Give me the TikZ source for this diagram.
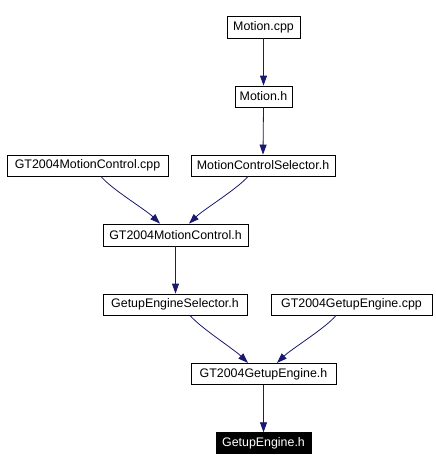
\documentclass[tikz,border=0pt]{standalone}
\usepackage{fontspec}
\setmainfont{Liberation Sans}
\usetikzlibrary{arrows.meta,calc}
\definecolor{edgeblue}{HTML}{191970}
\begin{document}
\begin{tikzpicture}[x=1pt,y=-1pt,
  box/.style={draw=black,line width=0.8pt,fill=white,inner sep=0pt,minimum height=21pt,font=\fontsize{12.4}{14}\selectfont},
  hibox/.style={box,fill=black,text=white},
  edge/.style={draw=edgeblue,line width=0.8pt,-{Triangle[length=10pt,width=7pt]}}]
\useasboundingbox[fill=white] (0,0) rectangle (436,471);
\node[box,minimum width=73pt,minimum height=22pt] (mcpp) at (263.5,27) {Motion.cpp};
\node[box,minimum width=57pt] (mh) at (263.5,96.5) {Motion.h};
\node[box,minimum width=161pt] (gmccpp) at (87.5,165.5) {GT2004MotionControl.cpp};
\node[box,minimum width=144pt] (mcsh) at (263,165.5) {MotionControlSelector.h};
\node[box,minimum width=145pt,minimum height=22pt] (gmch) at (175.5,235) {GT2004MotionControl.h};
\node[box,minimum width=144pt] (gesh) at (175,304.5) {GetupEngineSelector.h};
\node[box,minimum width=161pt] (gecpp) at (351.5,304.5) {GT2004GetupEngine.cpp};
\node[box,minimum width=145pt] (geh) at (263.5,373.8) {GT2004GetupEngine.h};
\node[hibox,minimum width=95pt] (ge) at (263.5,443.2) {GetupEngine.h};
\draw[edge] (mcpp.south) -- (mh.north);
\draw[edge] (mh.south) -- (mcsh.north);
\draw[edge] ([xshift=13.5pt]gmccpp.south) .. controls ([xshift=23pt,yshift=-12pt]gmccpp.south) and ([xshift=-30pt,yshift=14pt]gmch.north) .. ([xshift=-15.5pt]gmch.north);
\draw[edge] ([xshift=-15pt]mcsh.south) .. controls ([xshift=-25pt,yshift=-12pt]mcsh.south) and ([xshift=28pt,yshift=14pt]gmch.north) .. ([xshift=13.5pt]gmch.north);
\draw[edge] (gmch.south) -- (gesh.north -| gmch.south);
\draw[edge] ([xshift=15pt]gesh.south) .. controls ([xshift=25pt,yshift=-12pt]gesh.south) and ([xshift=-30pt,yshift=14pt]geh.north) .. ([xshift=-15.5pt]geh.north);
\draw[edge] ([xshift=-15.5pt]gecpp.south) .. controls ([xshift=-25pt,yshift=-12pt]gecpp.south) and ([xshift=28pt,yshift=14pt]geh.north) .. ([xshift=13.5pt]geh.north);
\draw[edge] (geh.south) -- (ge.north);
\end{tikzpicture}
\end{document}
